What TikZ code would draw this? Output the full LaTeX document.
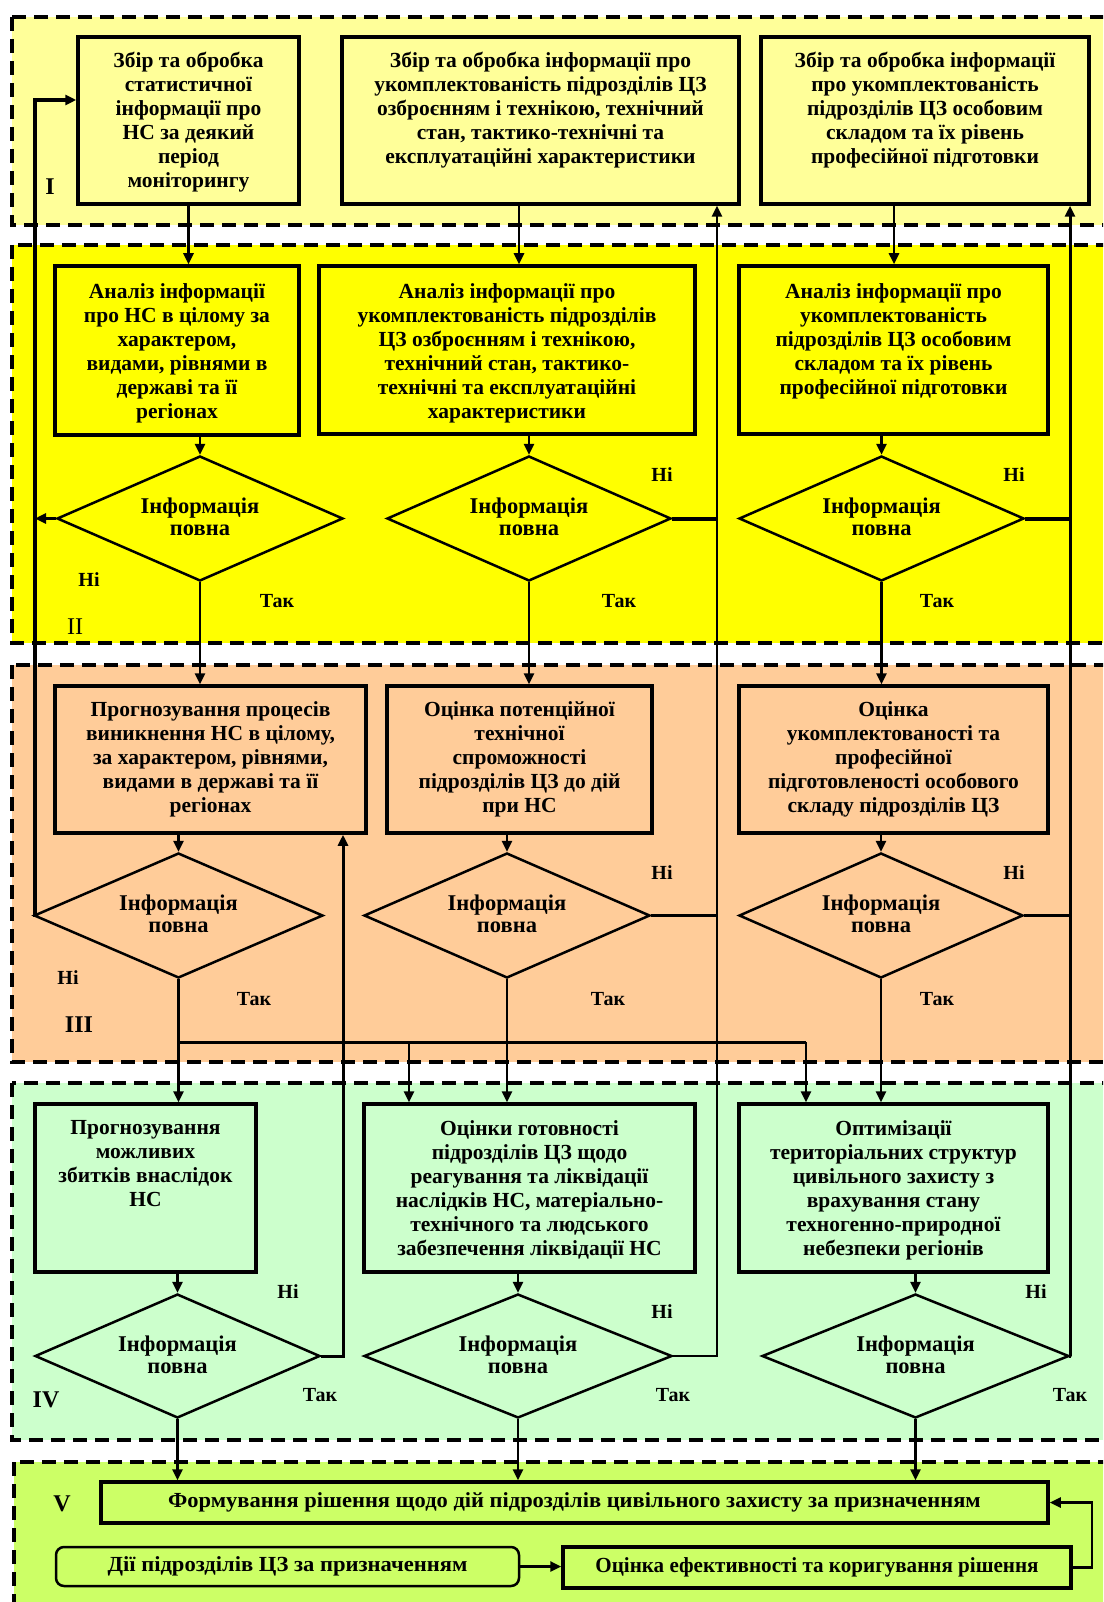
\documentclass[tikz,border=0pt]{standalone}
\usepackage{fontspec}
\setmainfont{Liberation Serif}
\usetikzlibrary{shapes.geometric,arrows.meta}
\definecolor{cI}{HTML}{FFFF99}
\definecolor{cII}{HTML}{FFFF00}
\definecolor{cIII}{HTML}{FFCC99}
\definecolor{cIV}{HTML}{CCFFCC}
\definecolor{cV}{HTML}{CCFF66}
\tikzset{
  sec/.style={line width=3.5pt, dash pattern=on 14pt off 8pt},
  box/.style={draw, line width=3.5pt, inner sep=0pt},
  txt/.style={font=\bfseries\fontsize{21.5}{24}\selectfont, align=center, inner sep=0pt, anchor=north},
  vtxt/.style={font=\bfseries\fontsize{21.5}{24}\selectfont, align=center, inner sep=0pt, anchor=center},
  dia/.style={diamond, draw, line width=2.5pt, inner sep=0pt},
  dtxt/.style={font=\bfseries\fontsize{22.5}{22}\selectfont, align=center, inner sep=0pt},
  lab/.style={font=\bfseries\fontsize{20}{22}\selectfont, inner sep=0pt},
  seclab/.style={font=\bfseries\fontsize{24}{26}\selectfont, inner sep=0pt},
  con/.style={line width=2.5pt},
  thk/.style={line width=4pt},
  arr/.style={line width=2.5pt, -{Triangle[length=11pt,width=10pt]}},
}
\begin{document}
\begin{tikzpicture}[x=1pt,y=-1pt]
\useasboundingbox (0,0) rectangle (1103,1602);
\clip (0,0) rectangle (1103,1602);
% sections
\draw[sec, fill=cI]   (12,17)   rectangle (1120,225);
\draw[sec, fill=cII]  (12,245)  rectangle (1120,643);
\draw[sec, fill=cIII] (12,665)  rectangle (1120,1062);
\draw[sec, fill=cIV]  (12,1083) rectangle (1120,1440);
\draw[sec, fill=cV]   (14,1462) rectangle (1120,1620);
\node[seclab] (sI) at (50,187) {I};
\node[seclab, font=\fontsize{24}{26}\selectfont] (sII) at (75,627) {II};
\node[seclab] (sIII) at (79,1025) {III};
\node[seclab] (sIV) at (46,1400) {IV};
\node[seclab] (sV) at (62,1504) {V};

% level I boxes
\node[box, fill=cI, minimum width=221pt, minimum height=167pt] (b1) at (188.5,120.5) {};
\node[box, fill=cI, minimum width=397pt, minimum height=167pt] (b2) at (540.5,120.5) {};
\node[box, fill=cI, minimum width=328pt, minimum height=167pt] (b3) at (925,120.5) {};
\node[txt] (b1t) at ([yshift=-17pt]b1.north) {Збір та обробка\\статистичної\\інформації про\\НС за деякий\\період\\моніторингу};
\node[txt] (b2t) at ([yshift=-17pt]b2.north) {Збір та обробка інформації про\\укомплектованість підрозділів ЦЗ\\озброєнням і технікою, технічний\\стан, тактико-технічні та\\експлуатаційні характеристики};
\node[txt] (b3t) at ([yshift=-17pt]b3.north) {Збір та обробка інформації\\про укомплектованість\\підрозділів ЦЗ особовим\\складом та їх рівень\\професійної підготовки};

% level II
\node[box, fill=cII, minimum width=244pt, minimum height=169pt] (a1) at (177,350.5) {};
\node[box, fill=cII, minimum width=376pt, minimum height=168pt] (a2) at (507,350) {};
\node[box, fill=cII, minimum width=309pt, minimum height=168pt] (a3) at (893.5,350) {};
\node[txt] (a1t) at ([yshift=-19pt]a1.north) {Аналіз інформації\\про НС в цілому за\\характером,\\видами, рівнями в\\державі та її\\регіонах};
\node[txt] (a2t) at ([yshift=-19pt]a2.north) {Аналіз інформації про\\укомплектованість підрозділів\\ЦЗ озброєнням і технікою,\\технічний стан, тактико-\\технічні та експлуатаційні\\характеристики};
\node[txt] (a3t) at ([yshift=-19pt]a3.north) {Аналіз інформації про\\укомплектованість\\підрозділів ЦЗ особовим\\складом та їх рівень\\професійної підготовки};
\node[dia, fill=cII, minimum width=286pt, minimum height=125pt] (d1) at (200,518.5) {};
\node[dia, fill=cII, minimum width=284pt, minimum height=125pt] (d2) at (529,518.5) {};
\node[dia, fill=cII, minimum width=285pt, minimum height=125pt] (d3) at (881.5,518.5) {};

% level III
\node[box, fill=cIII, minimum width=311pt, minimum height=147pt] (p1) at (210.5,759.5) {};
\node[box, fill=cIII, minimum width=265pt, minimum height=147pt] (p2) at (519.5,759.5) {};
\node[box, fill=cIII, minimum width=309pt, minimum height=147pt] (p3) at (893.5,759.5) {};
\node[txt] (p1t) at ([yshift=-17pt]p1.north) {Прогнозування процесів\\виникнення НС в цілому,\\за характером, рівнями,\\видами в державі та її\\регіонах};
\node[txt] (p2t) at ([yshift=-17pt]p2.north) {Оцінка потенційної\\технічної\\спроможності\\підрозділів ЦЗ до дій\\при НС};
\node[txt] (p3t) at ([yshift=-17pt]p3.north) {Оцінка\\укомплектованості та\\професійної\\підготовленості особового\\складу підрозділів ЦЗ};
\node[dia, fill=cIII, minimum width=289pt, minimum height=125pt] (d4) at (178.5,915.5) {};
\node[dia, fill=cIII, minimum width=286pt, minimum height=125pt] (d5) at (507,915.5) {};
\node[dia, fill=cIII, minimum width=284pt, minimum height=125pt] (d6) at (881,915.5) {};

% level IV
\node[box, fill=cIV, minimum width=221pt, minimum height=168pt] (f1) at (145.5,1188) {};
\node[box, fill=cIV, minimum width=331pt, minimum height=168pt] (f2) at (529.5,1188) {};
\node[box, fill=cIV, minimum width=309pt, minimum height=168pt] (f3) at (893.5,1188) {};
\node[txt] (f1t) at ([yshift=-18pt]f1.north) {Прогнозування\\можливих\\збитків внаслідок\\НС};
\node[txt] (f2t) at ([yshift=-18pt]f2.north) {Оцінки готовності\\підрозділів ЦЗ щодо\\реагування та ліквідації\\наслідків НС, матеріально-\\технічного та людського\\забезпечення ліквідації НС};
\node[txt] (f3t) at ([yshift=-18pt]f3.north) {Оптимізації\\територіальних структур\\цивільного захисту з\\врахування стану\\техногенно-природної\\небезпеки регіонів};
\node[dia, fill=cIV, minimum width=285pt, minimum height=124pt] (d7) at (177.5,1356) {};
\node[dia, fill=cIV, minimum width=308pt, minimum height=124pt] (d8) at (518,1356) {};
\node[dia, fill=cIV, minimum width=307pt, minimum height=124pt] (d9) at (915.5,1356) {};

% diamond texts
\foreach \d in {d1,d2,d3,d4,d5,d6,d7,d8,d9}{
  \node[dtxt] (\d t) at ([yshift=1.5pt]\d) {Інформація\\повна};
}

% level V
\node[box, fill=cV, minimum width=947pt, minimum height=41pt] (v1) at (574.5,1502.5) {};
\node[box, fill=cV, minimum width=463pt, minimum height=39pt, rounded corners=8pt, line width=2.5pt] (v2) at (287.5,1566.5) {};
\node[box, fill=cV, minimum width=508pt, minimum height=41pt] (v3) at (817,1567.5) {};
\node[vtxt] (v1t) at (v1) {\scalebox{1.045}[1]{Формування рішення щодо дій підрозділів цивільного захисту за призначенням}};
\node[vtxt] (v2t) at (v2) {\scalebox{1.05}[1]{Дії підрозділів ЦЗ за призначенням}};
\node[vtxt] (v3t) at (v3) {\scalebox{0.98}[1]{Оцінка ефективності та коригування рішення}};

% yes/no labels
\node[lab] (n1) at (89,580) {Ні};   \node[lab] (y1) at (277,601) {Так};
\node[lab] (n2) at (662,475) {Ні};  \node[lab] (y2) at (619,601) {Так};
\node[lab] (n3) at (1014,475) {Ні}; \node[lab] (y3) at (937,601) {Так};
\node[lab] (n4) at (68,978) {Ні};   \node[lab] (y4) at (254,999) {Так};
\node[lab] (n5) at (662,873) {Ні};  \node[lab] (y5) at (608,999) {Так};
\node[lab] (n6) at (1014,873) {Ні}; \node[lab] (y6) at (937,999) {Так};
\node[lab] (n7) at (288,1292) {Ні}; \node[lab] (y7) at (320,1395) {Так};
\node[lab] (n8) at (662,1312) {Ні}; \node[lab] (y8) at (673,1395) {Так};
\node[lab] (n9) at (1036,1292) {Ні};\node[lab] (y9) at (1070,1395) {Так};

% helper coordinates
\coordinate (xL) at (35,0);
\coordinate (xM) at (717,0);
\coordinate (xR) at (1070,0);
\coordinate (xP) at (343,0);
\coordinate (xV) at (1092,0);
\coordinate (k2) at (519,0);
\coordinate (k3) at (894,0);
\coordinate (kF) at (409,0);
\coordinate (kQ) at (806,0);
\coordinate (yT) at (0,100);
\coordinate (yB) at (0,1042);

% I -> II
\draw[arr] (b1.south) -- (b1.south |- a1.north);
\draw[arr] (b2.south -| k2) -- (a2.north -| k2);
\draw[arr] (b3.south -| k3) -- (a3.north -| k3);
% II
\draw[arr] (a1.south -| d1.north) -- (d1.north);
\draw[arr] (a2.south -| d2.north) -- (d2.north);
\draw[arr] (a3.south -| d3.north) -- (d3.north);
\draw[arr, line width=3pt] (d1.west) -- (d1.west -| xL);
\draw[thk] (d2.east) -- (d2.east -| xM);
\draw[thk] (d3.east) -- (d3.east -| xR);
\draw[arr] (d1.south) -- (d1.south |- p1.north);
\draw[arr] (d2.south) -- (d2.south |- p2.north);
\draw[arr] (d3.south) -- (d3.south |- p3.north);
% III
\draw[arr] (p1.south -| d4.north) -- (d4.north);
\draw[arr] (p2.south -| d5.north) -- (d5.north);
\draw[arr] (p3.south -| d6.north) -- (d6.north);
\draw[arr, line width=3.5pt] (d4.west) -- (d4.west -| xL) -- (xL |- yT) -- (b1.west |- yT);
\draw[con, line width=3pt] (d5.east) -- (d5.east -| xM);
\draw[con, line width=3pt] (d6.east) -- (d6.east -| xR);
\draw[arr] (d4.south) -- (d4.south |- f1.north);
\draw[arr] (d5.south) -- (d5.south |- f2.north);
\draw[arr] (d6.south) -- (d6.south |- f3.north);
\draw[con, line width=3pt] (d4.south |- yB) -- (kQ |- yB);
\draw[arr] (kF |- yB) -- (kF |- f2.north);
\draw[arr] (kQ |- yB) -- (kQ |- f3.north);
% IV
\draw[arr] (f1.south -| d7.north) -- (d7.north);
\draw[arr] (f2.south -| d8.north) -- (d8.north);
\draw[arr] (f3.south -| d9.north) -- (d9.north);
\draw[arr, line width=3pt] (d7.east) -- (d7.east -| xP) -- (xP |- p1.south);
\draw[arr] (d8.east) -- (d8.east -| xM) -- (xM |- b2.south);
\draw[arr, line width=3pt] (d9.east) -- (d9.east -| xR) -- (xR |- b3.south);
\draw[arr] (d7.south) -- (d7.south |- v1.north);
\draw[arr] (d8.south) -- (d8.south |- v1.north);
\draw[arr] (d9.south) -- (d9.south |- v1.north);
% V
\draw[arr] (v2.east) -- (v2.east -| v3.west);
\draw[arr] (v3.east) -- (v3.east -| xV) -- (xV |- v1.east) -- (v1.east);
\end{tikzpicture}
\end{document}
